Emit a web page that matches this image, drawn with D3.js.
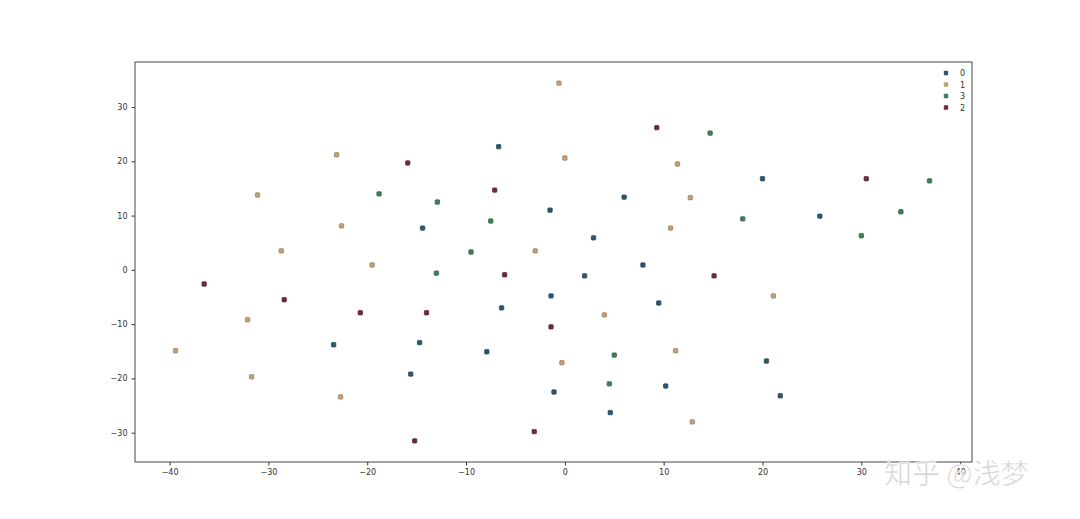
<!DOCTYPE html>
<html>
<head>
<meta charset="utf-8">
<script src="https://cdn.jsdelivr.net/npm/d3@7.9.0/dist/d3.min.js"></script>
<style>
  body { margin: 0; background: #fff; }
  svg { display: block; font-family: "DejaVu Sans", sans-serif; }
</style>
</head>
<body>
<svg id="chart" width="1080" height="519"></svg>
<script>
// t-SNE style points
const xs = [-39.4, -36.5, -32.1, -31.7, -31.1, -28.7, -28.4, -23.4, -23.1, -22.6, -22.7, -20.7, -19.5, -18.8,
  -15.9, -15.6, -15.2, -14.7, -14.4, -14.0, -12.9, -13.0, -9.5, -7.9, -7.5, -7.1, -6.7, -6.4, -6.1,
  -3.1, -3.0, -1.5, -1.4, -1.4, -1.1, -0.6, -0.3, 0.0, 2.9, 2.0, 4.0, 4.6, 4.5, 5.0, 6.0, 7.9, 9.3,
  9.5, 10.2, 10.7, 11.2, 11.4, 12.7, 12.9, 14.7, 15.1, 18.0, 20.0, 20.4, 21.1, 21.8, 25.8, 30.0, 30.5, 34.0, 36.9];
const ys = [-14.9, -2.6, -9.2, -19.7, 13.8, 3.5, -5.5, -13.8, 21.2, 8.1, -23.4, -7.9, 0.9, 14.0,
  19.7, -19.2, -31.5, -13.4, 7.7, -7.9, 12.5, -0.6, 3.3, -15.1, 9.0, 14.7, 22.7, -7.0, -0.9,
  -29.8, 3.5, 11.0, -4.8, -10.5, -22.5, 34.4, -17.1, 20.6, 5.9, -1.1, -8.3, -26.3, -21.0, -15.7, 13.4, 0.9, 26.2,
  -6.1, -21.4, 7.7, -14.9, 19.5, 13.3, -28.0, 25.2, -1.1, 9.4, 16.8, -16.8, -4.8, -23.2, 9.9, 6.3, 16.8, 10.7, 16.4];
const labels = [1, 2, 1, 1, 1, 1, 2, 0, 1, 1, 1, 2, 1, 3,
  2, 0, 2, 0, 0, 2, 3, 3, 3, 0, 3, 2, 0, 0, 2,
  2, 1, 0, 0, 2, 0, 1, 1, 1, 0, 0, 1, 0, 3, 3, 0, 0, 2,
  0, 0, 1, 1, 1, 1, 1, 3, 2, 3, 0, 0, 1, 0, 0, 3, 2, 3, 3];

const legendOrder = [0, 1, 3, 2];
// colour by class id: 0 blue, 1 tan, 2 maroon, 3 green
const classColors = ['#2d5670', '#c4a07a', '#6e2a48', '#3d7f56'];
const xTicks = [-40, -30, -20, -10, 0, 10, 20, 30, 40];
const yTicks = [-30, -20, -10, 0, 10, 20, 30];

const svg = d3.select('#chart');
const m = { left: 135, right: 972, top: 62, bottom: 462 };

const x = d3.scaleLinear().domain([-43.5, 41.2]).range([m.left, m.right]);
const y = d3.scaleLinear().domain([-35.4, 38.3]).range([m.bottom, m.top]);

// axes
const xAxis = svg.append('g')
  .attr('transform', `translate(0,${m.bottom})`)
  .call(d3.axisBottom(x).tickValues(xTicks).tickSize(3.5).tickPadding(4).tickFormat(d3.format('d')));
const yAxis = svg.append('g')
  .attr('transform', `translate(${m.left},0)`)
  .call(d3.axisLeft(y).tickValues(yTicks).tickSize(3.5).tickPadding(4).tickFormat(d3.format('d')));
[xAxis, yAxis].forEach(a => {
  a.select('.domain').remove();
  a.selectAll('line').attr('stroke', '#333');
  a.selectAll('text').attr('font-size', 8).attr('fill', '#333').attr('font-family', '"DejaVu Sans", sans-serif');
});

// frame
svg.append('rect')
  .attr('x', m.left).attr('y', m.top)
  .attr('width', m.right - m.left).attr('height', m.bottom - m.top)
  .attr('fill', 'none').attr('stroke', '#333').attr('stroke-width', 0.9);

// points
const pts = xs.map((v, i) => ({ x: v, y: ys[i], c: labels[i] }));
svg.append('g').selectAll('rect')
  .data(pts)
  .join('rect')
  .attr('x', d => x(d.x) - 2.2)
  .attr('y', d => y(d.y) - 2.2)
  .attr('width', 4.4).attr('height', 4.4)
  .attr('rx', 0.8)
  .attr('fill', d => classColors[d.c])
  .attr('stroke', d => d3.color(classColors[d.c]).darker(0.8))
  .attr('stroke-width', 0.7);

// legend
const lg = svg.append('g').attr('transform', 'translate(946,73)');
lg.selectAll('g')
  .data(legendOrder)
  .join('g')
  .attr('transform', (d, i) => `translate(0,${i * 11.5})`)
  .each(function (d) {
    const g = d3.select(this);
    g.append('rect').attr('x', -2.2).attr('y', -2.2).attr('width', 4.4).attr('height', 4.4).attr('rx', 0.8)
      .attr('fill', classColors[d]);
    g.append('text').attr('x', 14).attr('y', 3).attr('font-size', 8).attr('fill', '#333').text(d);
  });

// watermark
svg.append('text')
  .attr('x', 884).attr('y', 484)
  .attr('font-size', 28)
  .attr('font-family', '"Noto Sans CJK SC", sans-serif')
  .attr('fill', '#d6d6d6')
  .attr('stroke', '#fff').attr('stroke-width', 0.5)
  .text('知乎 @浅梦');
</script>
</body>
</html>
